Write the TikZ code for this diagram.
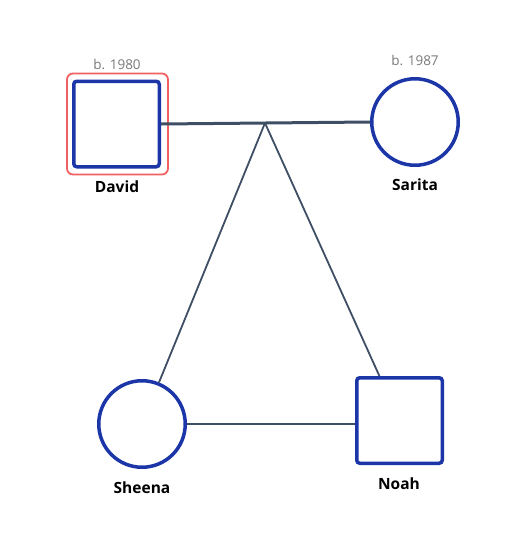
\documentclass[tikz,border=0pt]{standalone}
\usepackage{fontspec}
\setmainfont{Open Sans}
\usetikzlibrary{positioning}
\definecolor{personColor}{RGB}{28,54,168}
\definecolor{lineColor}{RGB}{62,78,100}
\definecolor{markColor}{RGB}{240,96,96}
\definecolor{yearColor}{RGB}{120,120,120}
\tikzset{person/.style={draw=personColor, line width=3.5pt, fill=white, inner sep=0pt}}
\tikzset{male/.style={person, rectangle, minimum size=85.5pt, rounded corners=3pt}}
\tikzset{female/.style={person, circle, minimum size=86.5pt}}
\tikzset{personname/.style={font=\fontsize{15.5}{18}\selectfont\bfseries, text=black}}
\tikzset{year/.style={font=\fontsize{13.5}{16}\selectfont, text=yearColor}}
\tikzstyle{union} = [draw=lineColor, line width=3pt]
\tikzstyle{child} = [draw=lineColor, line width=1.8pt]

\begin{document}
\begin{tikzpicture}[x=1pt, y=-1pt]
	\useasboundingbox (0,0) rectangle (530,555);
		% Nodes
		\node (marker) [draw=markColor, line width=1.8pt, rounded corners=6pt, minimum size=101pt] at (117.5,124) {};
		\node (david) [male] at (116.5,124) {};
		\node (sarita) [female] at (415,122) {};
		\node (sheena) [female] at (142,424) {};
		\node (noah) [male] at (399.5,420.5) {};
		\coordinate (junction) at (265,123);

		% Labels
		\node (davidyear) [year] at (117,64) {b. 1980};
		\node (saritayear) [year] at (415,60) {b. 1987};
		\node (davidname) [personname] at (117,187) {David};
		\node (saritaname) [personname] at (415,185) {Sarita};
		\node (sheenaname) [personname] at (142,488) {Sheena};
		\node (noahname) [personname] at (399,484) {Noah};

		% Connectors
		\begin{scope}
			\draw [child] (junction) -- (sheena);
			\draw [child] (junction) -- (noah);
			\draw [union] (david.east) -- (sarita.west);
			\draw [child, line width=2.4pt] (sheena.east) -- (noah.west |- sheena.east);
		\end{scope}
\end{tikzpicture}
\end{document}
